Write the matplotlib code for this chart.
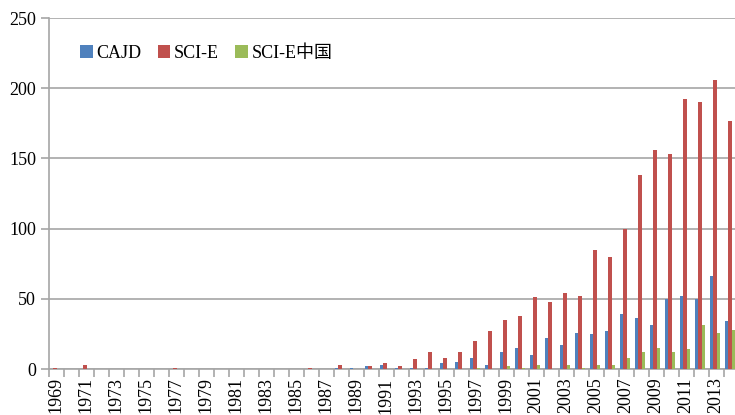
import numpy as np
import matplotlib
matplotlib.use('Agg')
import matplotlib.pyplot as plt

# years on the category axis
years = list(range(1969, 2015))

# values
cajd = [0, 0, 0, 0, 0, 0, 0, 0, 0, 0,
        0, 0, 0, 0, 0, 0, 0, 0, 0, 0.5,
        1, 2, 3, 1, 1, 1, 4, 5, 8, 3,
        12, 15, 10, 22, 17, 26, 25, 27, 39, 36,
        31, 50, 52, 50, 66, 34]
scie = [1, 0, 3, 0, 0, 0, 0, 0, 1, 0,
        0, 0, 0, 0, 0, 0, 0, 1, 0, 3,
        0, 2, 4, 2, 7, 12, 8, 12, 20, 27,
        35, 38, 51, 48, 54, 52, 85, 80, 100, 138,
        156, 153, 192, 190, 206, 177]
scie_cn = [0, 0, 0, 0, 0, 0, 0, 0, 0, 0,
           0, 0, 0, 0, 0, 0, 0, 0, 0, 0,
           0, 0, 0, 0, 0, 0, 0, 0, 1, 0,
           2, 1, 3, 0, 3, 1, 3, 3, 8, 12,
           15, 12, 14, 31, 26, 28]

series_names = ['CAJD', 'SCI-E', 'SCI-E中国']
colors = ['#4F81BD', '#C0504D', '#9BBB59']

plt.rcParams['font.family'] = ['Liberation Serif', 'Noto Sans CJK SC']
plt.rcParams['font.size'] = 13

fig = plt.figure(figsize=(7.35, 4.15), dpi=100)
# the plot area runs a little past the right edge, as in the reference
ax = fig.add_axes([0.066, 0.1108, 0.9388, 0.8458])

x = np.arange(len(years))
width = 0.22
step = 0.245
for i, (vals, name, c) in enumerate(zip([cajd, scie, scie_cn], series_names, colors)):
    ax.bar(x + (i - 1) * step - 0.07, vals, width, color=c, label=name, zorder=3)

ax.set_xlim(-0.5, len(years) - 0.5)
ax.set_ylim(0, 250)
ax.set_yticks(range(0, 251, 50))
ax.yaxis.grid(True, color='#A6A6A6', linewidth=1.2, zorder=0)

# labels every other year, tick marks at every category boundary
ax.set_xticks(x[::2])
ax.set_xticklabels([str(y) for y in years[::2]], rotation=90, va='top', ha='center')
ax.set_xticks(np.arange(-0.5, len(years), 1), minor=True)
ax.tick_params(axis='x', which='major', length=0, pad=6)
ax.tick_params(axis='x', which='minor', length=6, color='#A6A6A6', width=1.2)
ax.tick_params(axis='y', length=6, color='#A6A6A6', width=1.2, pad=3)

for side in ['top', 'right']:
    ax.spines[side].set_visible(False)
for side in ['left', 'bottom']:
    ax.spines[side].set_color('#A6A6A6')
    ax.spines[side].set_linewidth(1.2)

ax.legend(loc='upper left', bbox_to_anchor=(0.035, 0.945), ncol=3, frameon=False,
          handlelength=0.7, handleheight=0.7, handletextpad=0.2, columnspacing=0.9,
          borderaxespad=0)

plt.savefig('out.png', dpi=100)
